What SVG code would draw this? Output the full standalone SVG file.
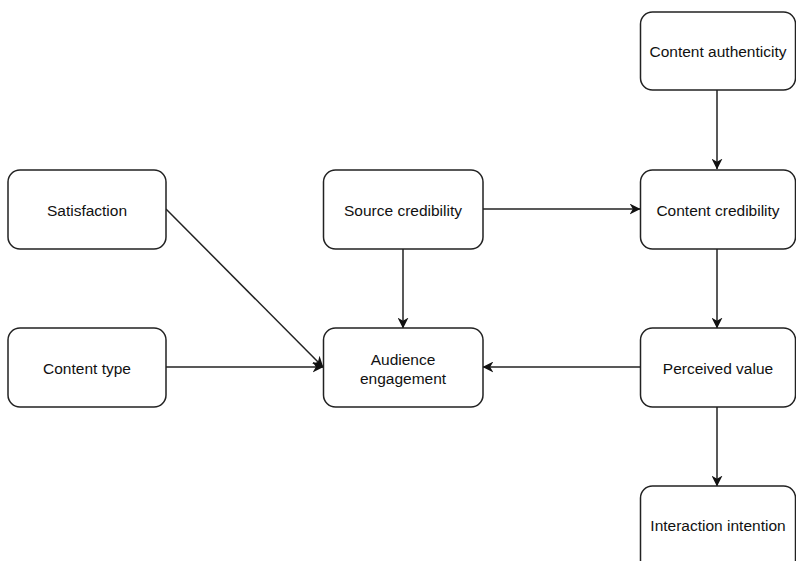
<svg xmlns="http://www.w3.org/2000/svg" width="796" height="561" viewBox="0 0 796 561">
<style>
.box{fill:#fff;stroke:#222;stroke-width:1.5}
.lbl{font-family:"Liberation Sans",Arial,sans-serif;font-size:15.5px;fill:#111;text-anchor:middle;dominant-baseline:central}
.edge{fill:none;stroke:#222;stroke-width:1.5}
</style>
<defs>
<marker id="arr" viewBox="0 0 10 10" refX="9.5" refY="5" markerWidth="11" markerHeight="11" markerUnits="userSpaceOnUse" orient="auto">
<path d="M0,0 L10,5 L0,10 L3,5 Z" fill="#111"/>
</marker>
</defs>
<rect width="796" height="561" fill="#fff"/>
<g id="edges">
<line class="edge" x1="717" y1="90" x2="717" y2="169" marker-end="url(#arr)"/>
<line class="edge" x1="483" y1="209" x2="640" y2="209" marker-end="url(#arr)"/>
<line class="edge" x1="717" y1="249" x2="717" y2="328" marker-end="url(#arr)"/>
<line class="edge" x1="640" y1="367" x2="483" y2="367" marker-end="url(#arr)"/>
<line class="edge" x1="717" y1="407" x2="717" y2="486" marker-end="url(#arr)"/>
<line class="edge" x1="166" y1="209" x2="323" y2="367" marker-end="url(#arr)"/>
<line class="edge" x1="166" y1="367" x2="323" y2="367" marker-end="url(#arr)"/>
<line class="edge" x1="403" y1="249" x2="403" y2="328" marker-end="url(#arr)"/>
</g>
<g id="content-authenticity"><rect class="box" x="640.5" y="12" width="155" height="78" rx="12"/><text class="lbl" x="718" y="51">Content authenticity</text></g>
<g id="satisfaction"><rect class="box" x="8" y="170" width="158" height="79" rx="12"/><text class="lbl" x="87" y="210">Satisfaction</text></g>
<g id="source-credibility"><rect class="box" x="323.5" y="170" width="159.5" height="79" rx="12"/><text class="lbl" x="403" y="210">Source credibility</text></g>
<g id="content-credibility"><rect class="box" x="640.5" y="170" width="155" height="79" rx="12"/><text class="lbl" x="718" y="210">Content credibility</text></g>
<g id="content-type"><rect class="box" x="8" y="328" width="158" height="79" rx="12"/><text class="lbl" x="87" y="368">Content type</text></g>
<g id="audience-engagement"><rect class="box" x="323.5" y="328" width="159.5" height="79" rx="12"/><text class="lbl" x="403" y="359">Audience</text><text class="lbl" x="403" y="378">engagement</text></g>
<g id="perceived-value"><rect class="box" x="640.5" y="328" width="155" height="79" rx="12"/><text class="lbl" x="718" y="368">Perceived value</text></g>
<g id="interaction-intention"><rect class="box" x="640.5" y="486" width="155" height="90" rx="12"/><text class="lbl" x="718" y="525">Interaction intention</text></g>
</svg>
